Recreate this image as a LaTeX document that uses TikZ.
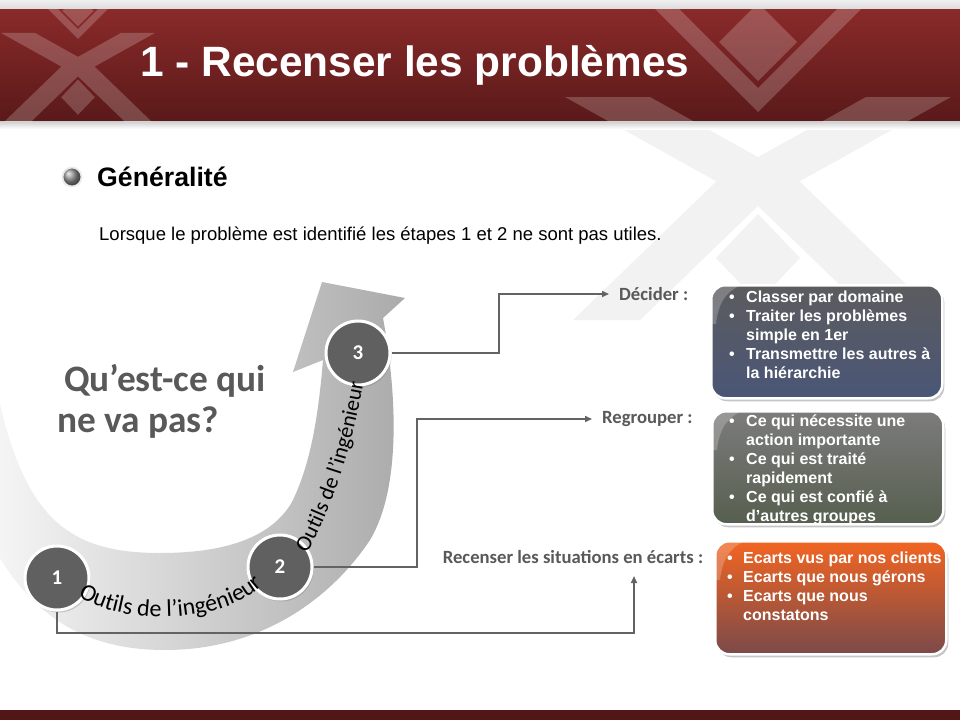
\documentclass[tikz,border=0pt]{standalone}
\usepackage{fontspec}
\setmainfont{Liberation Sans}
\newfontfamily\calib{Carlito}
\usetikzlibrary{arrows.meta,shadows,decorations.text}
\definecolor{hdrtop}{HTML}{8A2A2A}
\definecolor{hdrbot}{HTML}{5A1919}
\definecolor{footred}{HTML}{521616}
\definecolor{txtgray}{HTML}{595959}
\definecolor{conngray}{HTML}{636363}
\definecolor{circgray}{HTML}{606060}
\definecolor{bAtop}{HTML}{5C5C5E}
\definecolor{bAbot}{HTML}{4A5677}
\definecolor{bBtop}{HTML}{7C7C7C}
\definecolor{bBbot}{HTML}{565F4F}
\definecolor{bCtop}{HTML}{F26522}
\definecolor{bCbot}{HTML}{7B4A4A}
\newcommand\wmlogo[1]{%
 \fill[#1] (650,-2) -- (668,-2) -- (758,88) -- (848,-2) -- (866,-2) -- (866,4) -- (758,112) -- (650,4) -- cycle;
 \fill[#1] (758,3) -- (797,42) -- (758,81) -- (719,42) -- cycle;
 \fill[#1] (565,97) -- (650,97) -- (790,175) -- (640,320) -- (573,320) -- (716.4,181.4) -- cycle
   (799.6,181.4) -- (943,320) -- (876,320) -- (726,175) -- (866,97) -- (951,97) -- cycle;
 \fill[#1] (758,214) -- (800,258) -- (758,302) -- (716,258) -- cycle;
}
\begin{document}
\begin{tikzpicture}[x=1pt,y=-1pt,
  conn/.style={draw=conngray,line width=1.6pt},
  arr/.style={-{Triangle[length=7pt,width=6pt]}},
  numc/.style={circle,minimum size=64pt,inner sep=0pt,fill=circgray,draw=white,line width=3pt,text=white,font=\calib\bfseries\fontsize{21}{24}\selectfont,drop shadow={shadow xshift=1.5pt,shadow yshift=-2.5pt,opacity=0.35}},
  lab/.style={font=\calib\bfseries\fontsize{18.67}{22}\selectfont,text=txtgray,inner xsep=10pt,inner ysep=0pt},
  boxs/.style={rounded corners=14pt,draw=white,line width=2.5pt,minimum width=231pt,minimum height=113pt,anchor=north west,drop shadow={shadow xshift=2pt,shadow yshift=-3pt,opacity=0.45}},
  btxt/.style={anchor=base west,text=white,font=\bfseries\fontsize{16}{19}\selectfont,inner sep=0pt},
  gloss/.style={white,opacity=0.22},
]
\useasboundingbox (0,0) rectangle (960,720);
\fill[white] (0,0) rectangle (960,720);
% watermark below header
\wmlogo{black!5}
% header
\fill[top color=black!6,bottom color=black!14] (0,0) rectangle (960,9);
\fill[top color=hdrtop,bottom color=hdrbot] (0,9) rectangle (960,121);
\fill[top color=black!20,bottom color=white] (0,121) rectangle (960,129);
\begin{scope}
 \clip (0,9) rectangle (960,121);
 \wmlogo{white,opacity=0.2}
 \begin{scope}[shift={(-225.2,-6)},scale=0.4]
  \wmlogo{white,opacity=0.2}
 \end{scope}
\end{scope}
\node[anchor=base west,text=white,inner sep=0pt,font=\bfseries\fontsize{42.4}{48}\selectfont] (title) at (140,76) {1 - Recenser les problèmes};
% footer
\fill[footred] (0,710) rectangle (960,720);
% generalite
\node[circle,minimum size=19pt,inner sep=0pt,ball color=black!45,draw=black!8,line width=1.8pt] (gdot) at (72,177) {};
\node[anchor=base west,inner sep=0pt,font=\bfseries\fontsize{26.67}{30}\selectfont] (gen) at (97,186) {Généralité};
\node[anchor=base west,inner sep=0pt,font=\fontsize{18.5}{22}\selectfont] (intro) at (99,240) {Lorsque le problème est identifié les étapes 1 et 2 ne sont pas utiles.};
% curved band arrow
\shade[left color=black!4,right color=black!33]
 (383,318) -- (405,298) -- (322,282) -- (293,372) -- (323,360)
 .. controls (318,420) and (310,465) .. (292,502)
 .. controls (270,540) and (220,553) .. (160,553)
 .. controls (70,553) and (25,520) .. (-2,395)
 -- (-2,555)
 .. controls (40,625) and (95,650) .. (165,650)
 .. controls (260,650) and (330,600) .. (370,540)
 .. controls (400,490) and (398,400) .. (383,318) -- cycle;
% question
\node[anchor=base west,inner sep=0pt,text=txtgray,font=\calib\bfseries\fontsize{37.33}{40}\selectfont] (q1) at (64,391) {Qu’est-ce qui};
\node[anchor=base west,inner sep=0pt,text=txtgray,font=\calib\bfseries\fontsize{37.33}{40}\selectfont] (q2) at (57,432) {ne va pas?};
% labels
\node[lab,anchor=west] (ldec) at (609,294) {Décider :};
\node[lab,anchor=west] (lreg) at (592,419) {Regrouper :};
\node[lab,anchor=center] (lrec) at (573,557) {Recenser les situations en écarts :};
\coordinate (recend) at (634,576);
% circles
\node[numc] (c1) at (57,578) {1};
\node[numc] (c2) at (280,567) {2};
\node[numc] (c3) at (358,353) {3};
% curved texts
\path[decorate,decoration={text along path,text align=left,
  text={|\calib\fontsize{24}{26}\selectfont|Outils de l’ingénieur}}]
  (78,596) .. controls (121,625.5) and (222,626) .. (265,583) -- (290,558);
\path[decorate,decoration={text along path,text align=left,
  text={|\calib\fontsize{22}{24}\selectfont|Outils de l’ingénieur}}]
  (307,553) .. controls (334.5,505) and (353.6,439) .. (363,385) -- (367,360);
% connectors
\coordinate (k3) at (499,353);
\coordinate (k2) at (417,567);
\coordinate (k1) at (634,633);
\draw[conn,arr] (c3.east) -- (k3) |- (ldec.west);
\draw[conn,arr] (c2.east) -- (k2) |- (lreg.west);
\draw[conn,arr] (c1.south) |- (k1) -- (recend);
% boxes
\node[boxs,top color=bAtop,bottom color=bAbot] (box1) at (710,284) {};
\node[boxs,top color=bBtop,bottom color=bBbot] (box2) at (711,410) {};
\node[boxs,top color=bCtop,bottom color=bCbot] (box3) at (714,540) {};
\foreach \b in {box1,box2,box3}{
 \begin{scope}
  \clip[rounded corners=14pt] (\b.north west) rectangle (\b.south east);
  \fill[gloss] (\b.north west) -- ++(34,0) .. controls ++(-18,6) and ++(2,-20) .. ++(-28,40) -- ++(-6,0) -- cycle;
 \end{scope}
}
\foreach \t/\y [count=\i] in {Classer par domaine/302,Traiter les problèmes/321,simple en 1er/340,Transmettre les autres à/359,la hiérarchie/378}
 \node[btxt] (bA\i) at (746,\y) {\t};
\foreach \y [count=\i] in {302,321,359}
 \node[btxt] (dA\i) at (729,\y) {•};
\foreach \t/\y [count=\i] in {Ce qui nécessite une/426,action importante/445,Ce qui est traité/464,rapidement/483,Ce qui est confié à/502,d’autres groupes/521}
 \node[btxt] (bB\i) at (746,\y) {\t};
\foreach \y [count=\i] in {426,464,502}
 \node[btxt] (dB\i) at (729,\y) {•};
\foreach \t/\y [count=\i] in {Ecarts vus par nos clients/563,Ecarts que nous gérons/582,Ecarts que nous/601,constatons/620}
 \node[btxt] (bC\i) at (743,\y) {\t};
\foreach \y [count=\i] in {563,582,601}
 \node[btxt] (dC\i) at (727,\y) {•};
\end{tikzpicture}
\end{document}
